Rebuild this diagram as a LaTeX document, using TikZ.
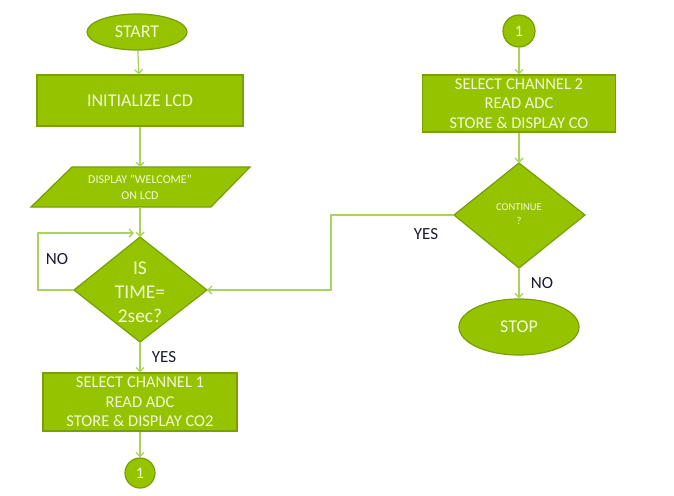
\documentclass[tikz,border=0pt]{standalone}
\usepackage{fontspec}
\setmainfont{Carlito}
\usetikzlibrary{shapes.geometric,arrows.meta}
\definecolor{gfill}{HTML}{95C300}
\definecolor{gdraw}{HTML}{77A000}
\definecolor{gline}{HTML}{A8D45A}
\definecolor{gtext}{HTML}{F2F9D6}
\definecolor{ltext}{HTML}{1A1A33}
\tikzset{
  base/.style={fill=gfill,draw=gdraw,line width=1.2pt,text=gtext,align=center,inner sep=0pt},
  term/.style={base,ellipse},
  proc/.style={base,rectangle},
  conn/.style={base,circle},
  flow/.style={draw=gline,line width=1.3pt,-{Straight Barb[length=4pt,width=8pt]}},
  lab/.style={text=ltext,font=\fontsize{17}{19}\selectfont,inner sep=0pt}
}
\begin{document}
\begin{tikzpicture}[x=1pt,y=-1pt]
\useasboundingbox (0,0) rectangle (674,495);
\fill[white] (0,0) rectangle (674,495);
% nodes
\node[term,minimum width=100pt,minimum height=36pt,font=\fontsize{18}{20}\selectfont] (start) at (137,32) {START};
\node[proc,minimum width=206pt,minimum height=51pt,font=\fontsize{18}{20}\selectfont] (init) at (140,100.5) {INITIALIZE LCD};
\draw[base] (72,167) -- (250,167) -- (211,207) -- (31,207) -- cycle;
\node[text=gtext,align=center,font=\fontsize{12}{16}\selectfont] (disp) at (140,187) {DISPLAY “WELCOME”\\ON LCD};
\coordinate (dtop) at (140,167);
\coordinate (dbot) at (140,207);
\draw[base] (140,237) -- (207,290) -- (140,342) -- (74,290) -- cycle;
\node[text=gtext,align=center,font=\fontsize{19.5}{24}\selectfont] (time) at (140,292) {IS\\TIME=\\2sec?};
\coordinate (ttop) at (140,237);
\coordinate (tleft) at (74,290);
\coordinate (tright) at (207,290);
\coordinate (tbot) at (140,342);
\node[proc,minimum width=194pt,minimum height=58pt,font=\fontsize{16.5}{19.5}\selectfont] (ch1) at (140,402) {SELECT CHANNEL 1\\READ ADC\\STORE \& DISPLAY CO2};
\node[conn,minimum size=30pt,font=\fontsize{16}{18}\selectfont] (c1) at (140,473) {1};

\node[conn,minimum size=32pt,font=\fontsize{16}{18}\selectfont] (c1b) at (519,31) {1};
\node[proc,minimum width=193pt,minimum height=57pt,font=\fontsize{16.5}{19.5}\selectfont] (ch2) at (519,103.5) {SELECT CHANNEL 2\\READ ADC\\STORE \& DISPLAY CO};
\draw[base] (519,163) -- (585,215) -- (519,268) -- (454,215) -- cycle;
\node[text=gtext,align=center,font=\fontsize{10.5}{14}\selectfont] (cont) at (519,214) {CONTINUE\\?};
\coordinate (ctop) at (519,163);
\coordinate (cleft) at (454,215);
\coordinate (cbot) at (519,268);
\node[term,minimum width=120pt,minimum height=56pt,font=\fontsize{18}{20}\selectfont] (stop) at (519,327) {STOP};

% connectors
\draw[flow] (start) -- (init);
\draw[flow] (init) -- (dtop);
\draw[flow] (dbot) -- (ttop);
\coordinate (nl1) at (38,290);
\coordinate (nl2) at (38,233);
\coordinate (nl3) at (134,233);
\draw[flow] (tleft) -- (nl1) -- (nl2) -- (nl3);
\draw[flow] (tbot) -- (ch1);
\draw[flow] (ch1) -- (c1);
\draw[flow] (c1b) -- (ch2);
\draw[flow] (ch2) -- (ctop);
\coordinate (y1) at (331,215);
\coordinate (y2) at (331,290);
\draw[flow] (cleft) -- (y1) -- (y2) -- (tright);
\draw[flow] (cbot) -- (stop);

% labels
\node[lab] (no1) at (57,259) {NO};
\node[lab] (yes1) at (164,357) {YES};
\node[lab] (yes2) at (426,234) {YES};
\node[lab] (no2) at (542,283) {NO};
\end{tikzpicture}
\end{document}
